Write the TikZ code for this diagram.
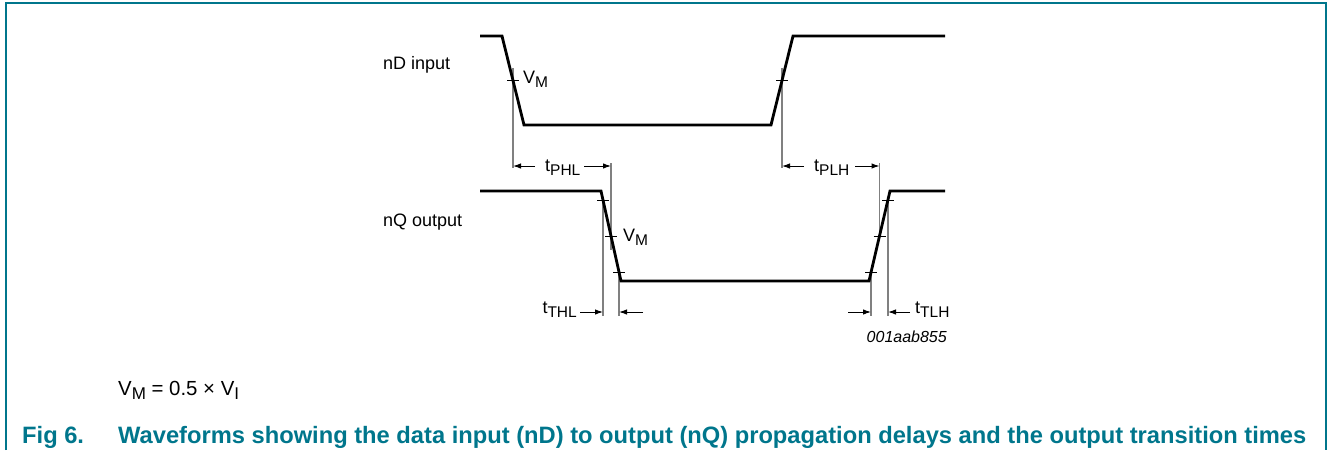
\documentclass[tikz,border=0pt]{standalone}
\usepackage{fontspec}
\setmainfont{Liberation Sans}
\usetikzlibrary{arrows.meta}
\definecolor{nxpteal}{RGB}{0,118,140}
\definecolor{guidegray}{RGB}{128,128,128}
\newcommand{\sbs}[1]{\raisebox{-0.24em}{\fontsize{15.5}{15.5}\selectfont #1}}
\newcommand{\sbsb}[1]{\raisebox{-0.24em}{\fontsize{17}{17}\selectfont #1}}
\begin{document}
\begin{tikzpicture}[x=1pt,y=-1pt,
  wave/.style={line width=2.8pt, line join=miter},
  guide/.style={line width=1.2pt, draw=guidegray},
  tickmark/.style={line width=1pt},
  dimarrow/.style={line width=1pt, -{Latex[length=8pt,width=5.5pt]}},
  lbl/.style={inner sep=0pt, font=\fontsize{18}{18}\selectfont},
  eqlbl/.style={inner sep=0pt, font=\fontsize{20.4}{20.4}\selectfont},
  capt/.style={inner sep=0pt, text=nxpteal, font=\fontsize{23.7}{23.7}\selectfont\bfseries},
  code/.style={inner sep=0pt, font=\fontsize{16}{16}\selectfont\itshape}]
\useasboundingbox (0,0) rectangle (1328,450);
% frame
\draw[nxpteal, line width=2pt] (5.5,450) -- (5.5,2.5) -- (1325.5,2.5) -- (1325.5,450);

% ---- input waveform coordinates
\coordinate (a0) at (480,36);
\coordinate (a1) at (502,36);
\coordinate (a2) at (524,125);
\coordinate (a3) at (771,125);
\coordinate (a4) at (793,36);
\coordinate (a5) at (945,36);
% ---- output waveform coordinates
\coordinate (b0) at (480,191);
\coordinate (b1) at (601,191);
\coordinate (b2) at (621,281);
\coordinate (b3) at (869,281);
\coordinate (b4) at (890,191);
\coordinate (b5) at (945,191);

% guide lines (gray)
\coordinate (gA1) at (513,68);   \coordinate (gA2) at (513,168);
\coordinate (gB1) at (782,68);   \coordinate (gB2) at (782,168);
\coordinate (gC1) at (611,163);  \coordinate (gC2) at (611,250);
\coordinate (gD1) at (603,200);  \coordinate (gD2) at (603,316);
\coordinate (gE1) at (619,272);  \coordinate (gE2) at (619,316);
\coordinate (gF1) at (879.5,163);\coordinate (gF2) at (879.5,238);
\coordinate (gG1) at (871,272);  \coordinate (gG2) at (871,316);
\coordinate (gH1) at (888,200);  \coordinate (gH2) at (888,316);
\foreach \g in {A,B,C,D,E,F,G,H} \draw[guide] (g\g1) -- (g\g2);

% waveforms
\draw[wave] (a0) -- (a1) -- (a2) -- (a3) -- (a4) -- (a5);
\draw[wave] (b0) -- (b1) -- (b2) -- (b3) -- (b4) -- (b5);

% tick marks
\foreach \x/\y in {513/80.5, 782/80.5, 603/200, 611/236, 619/272, 871/272, 879.5/236, 888/200}
  \draw[tickmark] (\x-6,\y) -- (\x+6,\y);

% labels
\node[lbl, anchor=base west] (nd) at (383,69.3) {nD input};
\node[lbl, anchor=base west] (nq) at (383,226) {nQ output};
\node[lbl, anchor=base west] (vm1) at (523,83.5) {V\sbs{M}};
\node[lbl, anchor=base west] (vm2) at (623,241) {V\sbs{M}};
\node[lbl, anchor=base west] (tphl) at (545,171) {t\sbs{PHL}};
\node[lbl, anchor=base west] (tplh) at (814,171) {t\sbs{PLH}};
\node[lbl, anchor=base east] (tthl) at (577,313) {t\sbs{THL}};
\node[lbl, anchor=base west] (ttlh) at (915,313) {t\sbs{TLH}};
\node[code, anchor=base east] (id) at (947,342) {001aab855};
\node[eqlbl, anchor=base west] (eq) at (118,395) {V\sbsb{M} = 0.5 × V\sbsb{I}};
\node[capt, anchor=base west] (fig) at (22,443) {Fig 6.};
\node[capt, anchor=base west] (cap) at (118,443) {Waveforms showing the data input (nD) to output (nQ) propagation delays and the output transition times};

% dimension arrows
\coordinate (p1) at (535,166); \coordinate (p1t) at (513,166);
\coordinate (p2) at (584,166); \coordinate (p2t) at (611,166);
\coordinate (q1) at (804,166); \coordinate (q1t) at (782,166);
\coordinate (q2) at (855,166); \coordinate (q2t) at (879.5,166);
\coordinate (r1) at (580,312); \coordinate (r1t) at (603,312);
\coordinate (r2) at (643,312); \coordinate (r2t) at (619,312);
\coordinate (s1) at (848,312); \coordinate (s1t) at (871,312);
\coordinate (s2) at (910,312); \coordinate (s2t) at (888,312);
\foreach \a in {p1,p2,q1,q2,r1,r2,s1,s2} \draw[dimarrow] (\a) -- (\a t);
\end{tikzpicture}
\end{document}
